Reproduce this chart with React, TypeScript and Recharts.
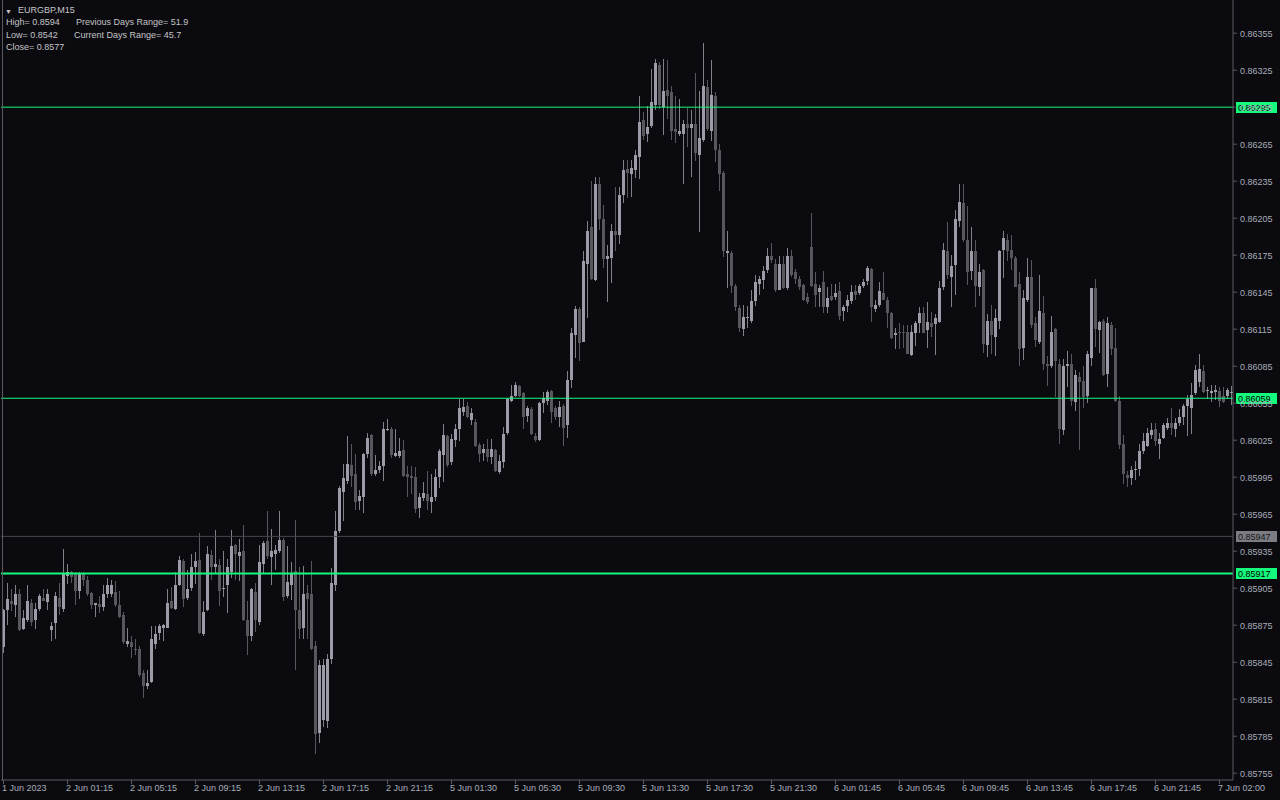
import React from 'react';
import { ComposedChart, Bar, XAxis, YAxis, ReferenceLine } from 'recharts';

// EURGBP M15 candles (oldest first)
const OPEN = [
  0.85857, 0.85887, 0.85895, 0.85891, 0.85900, 0.85872, 0.85879, 0.85893, 0.85879, 0.85888,
  0.85897, 0.85894, 0.85871, 0.85877, 0.85897, 0.85888, 0.85915, 0.85918, 0.85917, 0.85903,
  0.85917, 0.85912, 0.85901, 0.85891, 0.85892, 0.85890, 0.85900, 0.85900, 0.85902, 0.85891,
  0.85883, 0.85860, 0.85861, 0.85856, 0.85856, 0.85836, 0.85826, 0.85829, 0.85860, 0.85869,
  0.85873, 0.85873, 0.85895, 0.85888, 0.85908, 0.85927, 0.85897, 0.85905, 0.85922, 0.85928,
  0.85868, 0.85887, 0.85932, 0.85922, 0.85924, 0.85904, 0.85908, 0.85918, 0.85940, 0.85931,
  0.85935, 0.85879, 0.85866, 0.85902, 0.85878, 0.85925, 0.85943, 0.85930, 0.85933, 0.85935,
  0.85944, 0.85899, 0.85908, 0.85919, 0.85887, 0.85873, 0.85901, 0.85900, 0.85858, 0.85788,
  0.85798, 0.85797, 0.85848, 0.85908, 0.85951, 0.85983, 0.85992, 0.86005, 0.85998, 0.85976,
  0.85979, 0.86014, 0.86029, 0.85998, 0.86001, 0.86004, 0.86033, 0.86034, 0.86012, 0.86012,
  0.86017, 0.85998, 0.85996, 0.85995, 0.85970, 0.85978, 0.85981, 0.85975, 0.85979, 0.85995,
  0.86013, 0.86028, 0.86007, 0.86025, 0.86034, 0.86048, 0.86053, 0.86041, 0.86040, 0.86021,
  0.86015, 0.86018, 0.86011, 0.86017, 0.85999, 0.86007, 0.86031, 0.86057, 0.86061, 0.86069,
  0.86063, 0.86045, 0.86050, 0.86028, 0.86025, 0.86055, 0.86057, 0.86065, 0.86051, 0.86044,
  0.86053, 0.86037, 0.86074, 0.86110, 0.86131, 0.86105, 0.86168, 0.86198, 0.86155, 0.86233,
  0.86204, 0.86172, 0.86173, 0.86195, 0.86191, 0.86224, 0.86245, 0.86241, 0.86244, 0.86255,
  0.86285, 0.86273, 0.86280, 0.86297, 0.86329, 0.86295, 0.86309, 0.86307, 0.86277, 0.86273,
  0.86273, 0.86281, 0.86278, 0.86281, 0.86256, 0.86268, 0.86311, 0.86276, 0.86304, 0.86260,
  0.86242, 0.86177, 0.86177, 0.86150, 0.86132, 0.86115, 0.86124, 0.86122, 0.86138, 0.86152,
  0.86155, 0.86163, 0.86174, 0.86168, 0.86147, 0.86168, 0.86148, 0.86174, 0.86161, 0.86156,
  0.86151, 0.86141, 0.86182, 0.86152, 0.86145, 0.86153, 0.86133, 0.86142, 0.86141, 0.86146,
  0.86130, 0.86134, 0.86138, 0.86146, 0.86144, 0.86150, 0.86154, 0.86164, 0.86131, 0.86135,
  0.86144, 0.86139, 0.86128, 0.86110, 0.86113, 0.86113, 0.86113, 0.86094, 0.86112, 0.86120,
  0.86128, 0.86114, 0.86120, 0.86119, 0.86121, 0.86149, 0.86178, 0.86157, 0.86167, 0.86203,
  0.86217, 0.86187, 0.86162, 0.86178, 0.86149, 0.86163, 0.86102, 0.86122, 0.86109, 0.86122,
  0.86179, 0.86187, 0.86179, 0.86173, 0.86152, 0.86100, 0.86139, 0.86157, 0.86120, 0.86105,
  0.86128, 0.86087, 0.86085, 0.86115, 0.86087, 0.86033, 0.86085, 0.86087, 0.86056, 0.86076,
  0.86073, 0.86061, 0.86092, 0.86148, 0.86114, 0.86122, 0.86079, 0.86118, 0.86100, 0.86057,
  0.86022, 0.85997, 0.85994, 0.86001, 0.86002, 0.86016, 0.86020, 0.86029, 0.86034, 0.86022,
  0.86027, 0.86035, 0.86039, 0.86034, 0.86039, 0.86044, 0.86053, 0.86051, 0.86063, 0.86072,
  0.86081, 0.86065, 0.86063, 0.86064, 0.86065, 0.86061, 0.86061, 0.86063,
];
const HIGH = [
  0.85888, 0.85909, 0.85904, 0.85908, 0.85904, 0.85887, 0.85908, 0.85896, 0.85893, 0.85900,
  0.85904, 0.85904, 0.85878, 0.85902, 0.85909, 0.85937, 0.85925, 0.85919, 0.85918, 0.85918,
  0.85918, 0.85915, 0.85902, 0.85893, 0.85899, 0.85908, 0.85913, 0.85912, 0.85911, 0.85903,
  0.85886, 0.85873, 0.85866, 0.85864, 0.85858, 0.85839, 0.85839, 0.85874, 0.85874, 0.85876,
  0.85876, 0.85904, 0.85906, 0.85918, 0.85931, 0.85929, 0.85920, 0.85933, 0.85934, 0.85950,
  0.85895, 0.85939, 0.85936, 0.85952, 0.85929, 0.85935, 0.85929, 0.85952, 0.85941, 0.85945,
  0.85956, 0.85895, 0.85905, 0.85909, 0.85940, 0.85943, 0.85968, 0.85953, 0.85940, 0.85968,
  0.85946, 0.85939, 0.85926, 0.85960, 0.85922, 0.85923, 0.85908, 0.85927, 0.85862, 0.85847,
  0.85848, 0.85852, 0.85921, 0.85968, 0.85988, 0.86006, 0.86028, 0.86022, 0.86014, 0.85985,
  0.86015, 0.86031, 0.86030, 0.86013, 0.86008, 0.86040, 0.86042, 0.86036, 0.86034, 0.86027,
  0.86025, 0.86004, 0.86004, 0.86003, 0.85982, 0.85991, 0.86000, 0.85998, 0.86002, 0.86018,
  0.86038, 0.86029, 0.86030, 0.86038, 0.86058, 0.86058, 0.86056, 0.86051, 0.86042, 0.86023,
  0.86022, 0.86026, 0.86026, 0.86018, 0.86013, 0.86036, 0.86059, 0.86070, 0.86072, 0.86070,
  0.86064, 0.86053, 0.86052, 0.86031, 0.86056, 0.86064, 0.86066, 0.86066, 0.86053, 0.86057,
  0.86054, 0.86081, 0.86116, 0.86134, 0.86133, 0.86178, 0.86203, 0.86235, 0.86238, 0.86238,
  0.86216, 0.86183, 0.86200, 0.86230, 0.86230, 0.86252, 0.86252, 0.86252, 0.86260, 0.86304,
  0.86291, 0.86296, 0.86326, 0.86334, 0.86332, 0.86334, 0.86333, 0.86312, 0.86304, 0.86302,
  0.86285, 0.86294, 0.86293, 0.86323, 0.86308, 0.86347, 0.86317, 0.86333, 0.86307, 0.86265,
  0.86243, 0.86195, 0.86178, 0.86152, 0.86135, 0.86135, 0.86134, 0.86147, 0.86159, 0.86158,
  0.86166, 0.86181, 0.86185, 0.86172, 0.86174, 0.86174, 0.86181, 0.86179, 0.86164, 0.86158,
  0.86152, 0.86144, 0.86209, 0.86161, 0.86151, 0.86162, 0.86149, 0.86152, 0.86152, 0.86153,
  0.86135, 0.86143, 0.86151, 0.86151, 0.86152, 0.86156, 0.86166, 0.86165, 0.86139, 0.86153,
  0.86161, 0.86141, 0.86129, 0.86116, 0.86120, 0.86118, 0.86118, 0.86118, 0.86122, 0.86133,
  0.86133, 0.86137, 0.86129, 0.86127, 0.86154, 0.86185, 0.86202, 0.86175, 0.86212, 0.86233,
  0.86233, 0.86215, 0.86198, 0.86187, 0.86168, 0.86164, 0.86127, 0.86135, 0.86131, 0.86179,
  0.86195, 0.86192, 0.86191, 0.86174, 0.86161, 0.86147, 0.86173, 0.86171, 0.86125, 0.86159,
  0.86142, 0.86093, 0.86126, 0.86116, 0.86091, 0.86091, 0.86097, 0.86095, 0.86082, 0.86080,
  0.86085, 0.86097, 0.86148, 0.86156, 0.86122, 0.86123, 0.86125, 0.86121, 0.86116, 0.86061,
  0.86029, 0.86000, 0.86004, 0.86008, 0.86022, 0.86031, 0.86035, 0.86039, 0.86039, 0.86031,
  0.86039, 0.86043, 0.86051, 0.86043, 0.86050, 0.86054, 0.86062, 0.86071, 0.86086, 0.86095,
  0.86086, 0.86068, 0.86070, 0.86070, 0.86068, 0.86068, 0.86067, 0.86069,
];
const LOW = [
  0.85852, 0.85875, 0.85886, 0.85882, 0.85870, 0.85871, 0.85878, 0.85874, 0.85872, 0.85886,
  0.85894, 0.85887, 0.85863, 0.85864, 0.85883, 0.85886, 0.85909, 0.85909, 0.85891, 0.85896,
  0.85907, 0.85899, 0.85888, 0.85882, 0.85885, 0.85887, 0.85897, 0.85898, 0.85890, 0.85881,
  0.85860, 0.85858, 0.85848, 0.85851, 0.85833, 0.85816, 0.85824, 0.85828, 0.85855, 0.85863,
  0.85862, 0.85872, 0.85888, 0.85887, 0.85907, 0.85890, 0.85896, 0.85903, 0.85908, 0.85868,
  0.85867, 0.85886, 0.85912, 0.85917, 0.85891, 0.85898, 0.85885, 0.85913, 0.85912, 0.85911,
  0.85878, 0.85851, 0.85862, 0.85869, 0.85875, 0.85916, 0.85929, 0.85908, 0.85920, 0.85934,
  0.85895, 0.85897, 0.85895, 0.85838, 0.85864, 0.85864, 0.85864, 0.85855, 0.85770, 0.85780,
  0.85793, 0.85792, 0.85843, 0.85903, 0.85950, 0.85960, 0.85989, 0.85987, 0.85969, 0.85969,
  0.85966, 0.86011, 0.85996, 0.85996, 0.85998, 0.85992, 0.86032, 0.86011, 0.86011, 0.86011,
  0.85995, 0.85979, 0.85981, 0.85966, 0.85962, 0.85976, 0.85968, 0.85966, 0.85976, 0.85986,
  0.85991, 0.86003, 0.86005, 0.86019, 0.86024, 0.86044, 0.86043, 0.86037, 0.86019, 0.86008,
  0.86008, 0.86007, 0.86006, 0.85999, 0.85998, 0.86003, 0.86029, 0.86056, 0.86060, 0.86060,
  0.86034, 0.86040, 0.86029, 0.86024, 0.86024, 0.86047, 0.86054, 0.86039, 0.86042, 0.86036,
  0.86020, 0.86027, 0.86067, 0.86092, 0.86089, 0.86104, 0.86124, 0.86155, 0.86154, 0.86195,
  0.86165, 0.86137, 0.86152, 0.86178, 0.86184, 0.86217, 0.86221, 0.86222, 0.86237, 0.86237,
  0.86268, 0.86267, 0.86278, 0.86293, 0.86294, 0.86272, 0.86285, 0.86268, 0.86266, 0.86272,
  0.86233, 0.86262, 0.86239, 0.86252, 0.86194, 0.86267, 0.86276, 0.86267, 0.86250, 0.86227,
  0.86173, 0.86149, 0.86144, 0.86130, 0.86113, 0.86110, 0.86116, 0.86120, 0.86134, 0.86143,
  0.86147, 0.86161, 0.86169, 0.86145, 0.86147, 0.86147, 0.86147, 0.86157, 0.86152, 0.86147,
  0.86138, 0.86135, 0.86149, 0.86133, 0.86133, 0.86128, 0.86128, 0.86138, 0.86139, 0.86122,
  0.86122, 0.86129, 0.86136, 0.86139, 0.86143, 0.86149, 0.86151, 0.86121, 0.86129, 0.86133,
  0.86139, 0.86116, 0.86107, 0.86099, 0.86099, 0.86099, 0.86095, 0.86093, 0.86102, 0.86112,
  0.86112, 0.86100, 0.86109, 0.86094, 0.86120, 0.86147, 0.86156, 0.86133, 0.86143, 0.86198,
  0.86186, 0.86151, 0.86155, 0.86133, 0.86142, 0.86096, 0.86092, 0.86095, 0.86093, 0.86115,
  0.86157, 0.86170, 0.86163, 0.86149, 0.86085, 0.86090, 0.86137, 0.86116, 0.86101, 0.86103,
  0.86082, 0.86069, 0.86084, 0.86060, 0.86022, 0.86029, 0.86068, 0.86053, 0.86049, 0.86017,
  0.86051, 0.86055, 0.86085, 0.86101, 0.86096, 0.86077, 0.86068, 0.86094, 0.86056, 0.86018,
  0.85989, 0.85987, 0.85989, 0.85993, 0.85996, 0.86014, 0.86020, 0.86026, 0.86020, 0.86010,
  0.86026, 0.86033, 0.86029, 0.86028, 0.86036, 0.86037, 0.86029, 0.86030, 0.86062, 0.86068,
  0.86063, 0.86058, 0.86056, 0.86058, 0.86052, 0.86055, 0.86058, 0.86054,
];
const CLOSE = [
  0.85887, 0.85896, 0.85892, 0.85900, 0.85871, 0.85881, 0.85895, 0.85878, 0.85888, 0.85899,
  0.85895, 0.85900, 0.85874, 0.85899, 0.85890, 0.85917, 0.85918, 0.85914, 0.85903, 0.85917,
  0.85912, 0.85900, 0.85891, 0.85893, 0.85890, 0.85900, 0.85908, 0.85908, 0.85891, 0.85882,
  0.85861, 0.85862, 0.85857, 0.85855, 0.85835, 0.85826, 0.85828, 0.85864, 0.85868, 0.85874,
  0.85875, 0.85893, 0.85889, 0.85908, 0.85928, 0.85896, 0.85904, 0.85922, 0.85927, 0.85869,
  0.85886, 0.85933, 0.85922, 0.85925, 0.85903, 0.85905, 0.85922, 0.85939, 0.85933, 0.85934,
  0.85879, 0.85866, 0.85904, 0.85879, 0.85926, 0.85942, 0.85931, 0.85935, 0.85936, 0.85944,
  0.85898, 0.85910, 0.85917, 0.85887, 0.85872, 0.85900, 0.85896, 0.85856, 0.85787, 0.85843,
  0.85843, 0.85848, 0.85909, 0.85951, 0.85986, 0.85994, 0.86006, 0.85996, 0.85975, 0.85980,
  0.86014, 0.86027, 0.85998, 0.86001, 0.86004, 0.86034, 0.86034, 0.86013, 0.86015, 0.86016,
  0.85996, 0.85995, 0.85994, 0.85969, 0.85979, 0.85982, 0.85976, 0.85979, 0.85995, 0.86016,
  0.86029, 0.86005, 0.86026, 0.86034, 0.86051, 0.86052, 0.86044, 0.86047, 0.86020, 0.86014,
  0.86018, 0.86011, 0.86018, 0.86000, 0.86008, 0.86030, 0.86058, 0.86061, 0.86070, 0.86061,
  0.86044, 0.86051, 0.86030, 0.86025, 0.86055, 0.86059, 0.86064, 0.86048, 0.86044, 0.86052,
  0.86035, 0.86074, 0.86112, 0.86131, 0.86104, 0.86170, 0.86195, 0.86156, 0.86233, 0.86204,
  0.86172, 0.86174, 0.86195, 0.86191, 0.86224, 0.86244, 0.86242, 0.86246, 0.86256, 0.86283,
  0.86272, 0.86279, 0.86299, 0.86331, 0.86297, 0.86308, 0.86304, 0.86276, 0.86275, 0.86276,
  0.86281, 0.86278, 0.86281, 0.86258, 0.86270, 0.86312, 0.86277, 0.86305, 0.86260, 0.86241,
  0.86178, 0.86178, 0.86150, 0.86133, 0.86116, 0.86125, 0.86125, 0.86138, 0.86153, 0.86156,
  0.86162, 0.86174, 0.86171, 0.86147, 0.86168, 0.86148, 0.86174, 0.86159, 0.86156, 0.86149,
  0.86139, 0.86137, 0.86150, 0.86143, 0.86148, 0.86133, 0.86140, 0.86139, 0.86144, 0.86126,
  0.86133, 0.86139, 0.86145, 0.86143, 0.86150, 0.86153, 0.86165, 0.86133, 0.86135, 0.86146,
  0.86139, 0.86128, 0.86108, 0.86112, 0.86112, 0.86112, 0.86095, 0.86113, 0.86120, 0.86128,
  0.86112, 0.86121, 0.86117, 0.86124, 0.86148, 0.86179, 0.86159, 0.86166, 0.86204, 0.86218,
  0.86187, 0.86161, 0.86178, 0.86150, 0.86161, 0.86103, 0.86122, 0.86110, 0.86124, 0.86178,
  0.86189, 0.86178, 0.86173, 0.86149, 0.86099, 0.86140, 0.86157, 0.86118, 0.86106, 0.86130,
  0.86087, 0.86085, 0.86113, 0.86089, 0.86034, 0.86085, 0.86087, 0.86057, 0.86078, 0.86072,
  0.86060, 0.86095, 0.86148, 0.86115, 0.86121, 0.86078, 0.86120, 0.86099, 0.86057, 0.86021,
  0.85998, 0.85994, 0.86001, 0.86002, 0.86016, 0.86024, 0.86031, 0.86033, 0.86024, 0.86026,
  0.86037, 0.86039, 0.86035, 0.86039, 0.86044, 0.86053, 0.86058, 0.86062, 0.86082, 0.86083,
  0.86064, 0.86066, 0.86065, 0.86066, 0.86057, 0.86056, 0.86066, 0.86064,
];

// one time label every 16 bars
const TIME_LABELS = [
  '1 Jun 2023', '2 Jun 01:15', '2 Jun 05:15', '2 Jun 09:15', '2 Jun 13:15', '2 Jun 17:15',
  '2 Jun 21:15', '5 Jun 01:30', '5 Jun 05:30', '5 Jun 09:30', '5 Jun 13:30', '5 Jun 17:30',
  '5 Jun 21:30', '6 Jun 01:45', '6 Jun 05:45', '6 Jun 09:45', '6 Jun 13:45', '6 Jun 17:45',
  '6 Jun 21:45', '7 Jun 02:00',
];
const LABEL_STEP = 16;

const PRICE_TICKS = [
  0.85755, 0.85785, 0.85815, 0.85845, 0.85875, 0.85905, 0.85935, 0.85965, 0.85995, 0.86025,
  0.86055, 0.86085, 0.86115, 0.86145, 0.86175, 0.86205, 0.86235, 0.86265, 0.86295, 0.86325,
  0.86355,
];
const PRICE_DOMAIN = [0.857495, 0.863819];

const GREEN_LEVELS = [0.86295, 0.86059, 0.85917];
const GREY_LEVEL = 0.85947;

const BG = '#0b0b0f';
const BULL = '#9c9ca8';
const BEAR = '#57575d';
const WICK_UP = '#80808a';
const WICK_DN = '#57575d';
const FRAME = '#5a5a64';
const TXT = '#a8adba';
const GREEN = '#14fa7d';
const FONT = '"Liberation Sans", Arial, sans-serif';

const data = OPEN.map((open, i) => ({
  idx: i,
  open,
  high: HIGH[i],
  low: LOW[i],
  close: CLOSE[i],
}));

const Candle = (props: any) => {
  const { x, y, width, height, payload } = props;
  if (!payload) return null;
  const { open, close, high, low } = payload;
  const top = Math.min(y, y + height);
  const h = Math.abs(height);
  const k = high > low ? h / (high - low) : 0;
  const bull = close >= open;
  const left = Math.round(x);
  const bodyTop = Math.round(top + (high - Math.max(open, close)) * k);
  const bodyBot = Math.round(top + (high - Math.min(open, close)) * k);
  return (
    <g>
      <rect x={left + 2} y={Math.round(top)} width={1} height={Math.max(1, Math.round(h))} fill={bull ? WICK_UP : WICK_DN} />
      <rect x={left + 1} y={bodyTop} width={Math.min(3, width)} height={Math.max(1, bodyBot - bodyTop)} fill={bull ? BULL : BEAR} />
    </g>
  );
};

const TimeTick = (props: any) => {
  const { x, y, payload } = props;
  const label = TIME_LABELS[Math.round(payload.value / LABEL_STEP)];
  if (!label) return null;
  return (
    <g>
      <line x1={x + 0.5} x2={x + 0.5} y1={y} y2={y + 4} stroke={FRAME} />
      <text x={x - 1} y={y + 11} fontSize={9} fontFamily={FONT} fill={TXT} textAnchor="start">
        {label}
      </text>
    </g>
  );
};

const PriceTick = (props: any) => {
  const { x, y, payload } = props;
  return (
    <text x={x} y={y + 4} fontSize={9} fontFamily={FONT} fill={TXT} textAnchor="start">
      {Number(payload.value).toFixed(5)}
    </text>
  );
};

const priceTag = (value: number, bg: string, fg: string) => (props: any) => {
  const vb = props.viewBox;
  if (!vb) return null;
  const yy = Math.round(vb.y);
  const xx = vb.x + vb.width + 3;
  return (
    <g>
      <rect x={xx} y={yy - 5} width={41} height={11} fill={bg} />
      <text x={xx + 2} y={yy + 4} fontSize={9} fontFamily={FONT} fill={fg}>
        {value.toFixed(5)}
      </text>
    </g>
  );
};

const textStyle: React.CSSProperties = {
  position: 'absolute',
  fontFamily: FONT,
  fontSize: 9,
  color: '#c4c4c8',
  whiteSpace: 'pre',
  lineHeight: '11px',
};

export default function App() {
  const labelTicks = TIME_LABELS.map((_, i) => i * LABEL_STEP);
  return (
    <div style={{ position: 'fixed', left: 0, top: 0, width: 1280, height: 800, background: BG, overflow: 'hidden' }}>
      <ComposedChart
        width={1280}
        height={800}
        data={data}
        margin={{ top: 0, right: 0, bottom: 0, left: 1 }}
        barCategoryGap={0}
        barGap={0}
      >
        <XAxis
          dataKey="idx"
          type="category"
          ticks={labelTicks}
          interval={0}
          height={20}
          tickLine={false}
          tickSize={0}
          tickMargin={0}
          axisLine={{ stroke: FRAME }}
          tick={<TimeTick />}
        />
        <YAxis
          orientation="right"
          type="number"
          width={47}
          domain={PRICE_DOMAIN}
          allowDataOverflow
          ticks={PRICE_TICKS}
          interval={0}
          tick={<PriceTick />}
          tickSize={4}
          tickMargin={3}
          axisLine={{ stroke: FRAME }}
          tickLine={{ stroke: FRAME }}
        />
        <Bar
          dataKey={(d: any) => [d.low, d.high]}
          shape={<Candle />}
          isAnimationActive={false}
        />
        <ReferenceLine
          y={GREY_LEVEL}
          stroke="#45454f"
          strokeWidth={1}
          label={priceTag(GREY_LEVEL, '#7c7c82', '#151515')}
        />
        {GREEN_LEVELS.map((lv, i) => (
          <ReferenceLine
            key={lv}
            y={lv}
            stroke={GREEN}
            strokeWidth={i === 2 ? 2 : 1}
            label={priceTag(lv, GREEN, '#000')}
          />
        ))}
      </ComposedChart>

      <div style={{ position: 'absolute', left: 2, top: 0, width: 1, height: 780, background: FRAME }} />

      <div style={{ ...textStyle, left: 5, top: 6, fontSize: 7 }}>▼</div>
      <div style={{ ...textStyle, left: 18, top: 5 }}>EURGBP,M15</div>
      <div style={{ ...textStyle, left: 6, top: 17 }}>High= 0.8594</div>
      <div style={{ ...textStyle, left: 76, top: 17 }}>Previous Days Range= 51.9</div>
      <div style={{ ...textStyle, left: 6, top: 30 }}>Low= 0.8542</div>
      <div style={{ ...textStyle, left: 74, top: 30 }}>Current Days Range= 45.7</div>
      <div style={{ ...textStyle, left: 6, top: 42 }}>Close= 0.8577</div>
    </div>
  );
}
